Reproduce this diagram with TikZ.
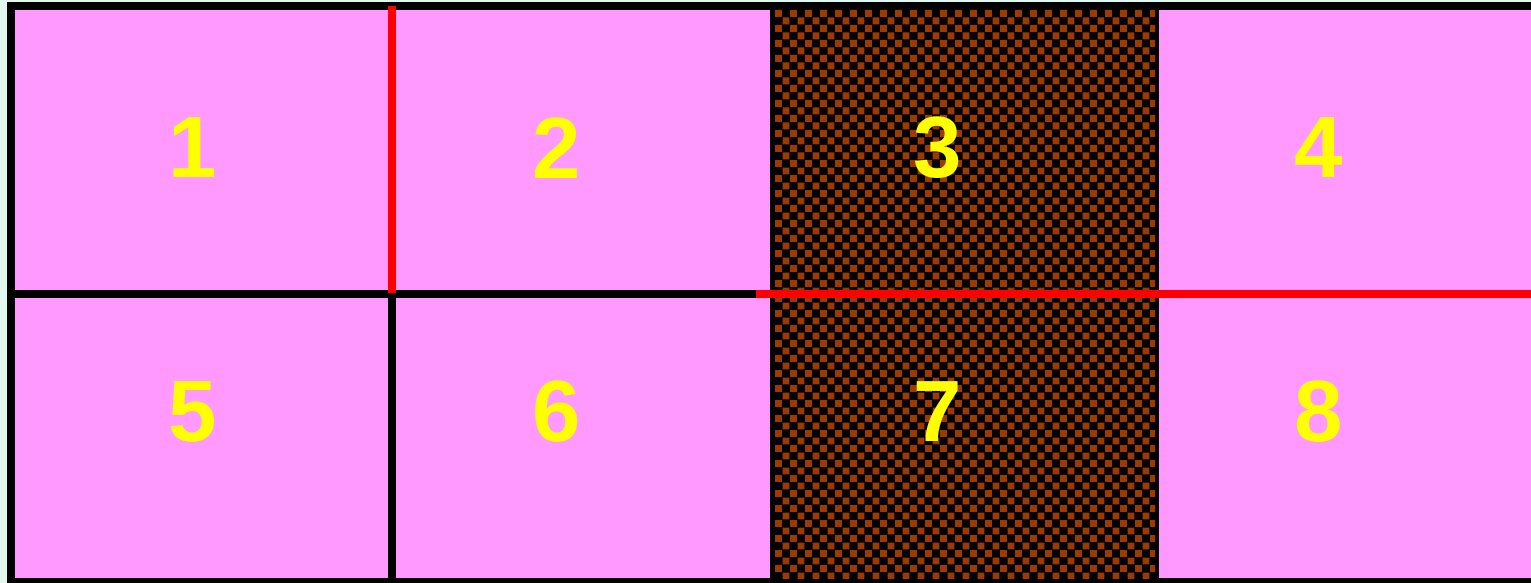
\documentclass[tikz,border=0pt]{standalone}
\usepackage{fontspec}
\setmainfont{Liberation Sans}
\definecolor{mint}{HTML}{E0F8F0}
\definecolor{pinkfill}{HTML}{FF99FF}
\definecolor{checkbrown}{HTML}{9C3A00}
\definecolor{numyellow}{HTML}{FFFF00}
\definecolor{redline}{HTML}{FF0000}
\tikzset{
  numlabel/.style={text=numyellow, font=\fontsize{87}{87}\selectfont\bfseries, inner sep=0pt, anchor=center},
}
\begin{document}
\begin{tikzpicture}[x=1pt,y=-1pt]
\useasboundingbox (0,0) rectangle (1531,583);
\fill[mint] (0,0) rectangle (1531,583);
% frame
\fill[black] (7,2) rectangle (1531,583);
\fill[pinkfill] (15,10) rectangle (1531,578);
% checkerboard column
\fill[black] (770,10) rectangle (1159,578);
\begin{scope}
\clip (774,10) rectangle (1155,578);
\fill[checkbrown]
  \foreach \i in {0,...,26} {
    \foreach \j in {0,...,38} {
      (775+15*\i,10+15*\j) rectangle +(6.8,6.8)
      (782.5+15*\i,17.5+15*\j) rectangle +(6.8,6.8)
    }
  };
\end{scope}
% dividers
\fill[black] (15,290) rectangle (756,297.5);
\fill[redline] (756,290) rectangle (1531,298);
\fill[redline] (388,6) rectangle (396,293);
\fill[black] (388,293) rectangle (396,578);
% labels
\node[numlabel] (n1) at (193,148) {1};
\node[numlabel] (n2) at (557,148) {2};
\node[numlabel] (n3) at (938,148) {3};
\node[numlabel] (n4) at (1319,148) {4};
\node[numlabel] (n5) at (193,412) {5};
\node[numlabel] (n6) at (557,412) {6};
\node[numlabel] (n7) at (938,412) {7};
\node[numlabel] (n8) at (1319,412) {8};
\end{tikzpicture}
\end{document}
